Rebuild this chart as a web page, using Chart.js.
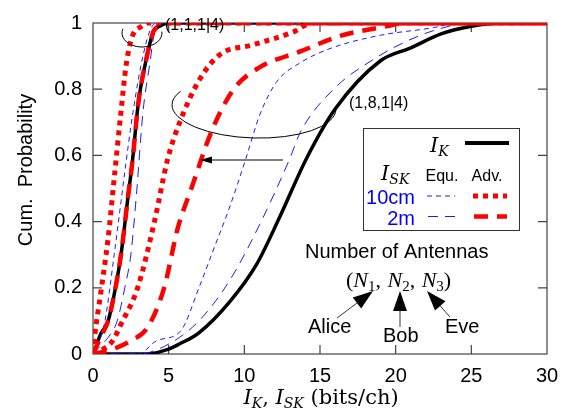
<!DOCTYPE html>
<html><head><meta charset="utf-8">
<script src="https://cdn.jsdelivr.net/npm/chart.js@4"></script>
<style>html,body{margin:0;padding:0;background:#fff}#wrap{width:569px;height:419px}</style>
</head><body><div id="wrap"><canvas id="c" width="569" height="419"></canvas></div>
<script>
// ---- data ----
const xTickLabels = ['0','5','10','15','20','25','30'];
const yTickLabels = ['0','0.2','0.4','0.6','0.8','1'];

// I_K, antennas (1,1,1|4)
const ikAX = [0,0.1,0.5,1,1.4,1.85,2.3,2.6,3,3.5,4,4.4,5,30];
const ikAY = [0,0.01,0.06,0.1,0.18,0.3,0.47,0.58,0.76,0.886,0.975,0.99,1,1];
// I_K, antennas (1,8,1|4)
const ikBX = [0,3.5,5,5.7,7,9,10.8,12.3,14.1,16,19,21,23,25,27,30];
const ikBY = [0,0,0.015,0.03,0.064,0.156,0.27,0.41,0.59,0.74,0.886,0.925,0.967,0.99,1,1];
// I_SK 10cm Equ.
const eq10AX = [0,0.3,0.75,1.4,1.85,2.1,2.64,3.3,3.9,4.3,30];
const eq10AY = [0,0.03,0.09,0.3,0.46,0.55,0.73,0.9,0.99,1,1];
const eq10BX = [0,3,4.2,5.8,7,8,9,10.1,11,12.1,13.7,15.8,19,22.5,24,30];
const eq10BY = [0,0,0.04,0.07,0.2,0.32,0.44,0.59,0.72,0.82,0.88,0.925,0.963,0.986,1,1];
// I_SK 2m Equ.
const eq2AX = [0,0.4,1,1.6,2.1,2.5,2.85,3.3,3.75,4.1,4.5,30];
const eq2AY = [0,0.02,0.05,0.1,0.2,0.3,0.47,0.73,0.876,0.98,1,1];
const eq2BX = [0,3,5,7,9,11,13,13.7,15.9,18.7,20.5,22.5,25,30];
const eq2BY = [0,0,0.03,0.1,0.22,0.39,0.59,0.67,0.8,0.895,0.94,0.977,1,1];
// I_SK 10cm Adv.
const adv10AX = [0,0.1,0.5,1,1.4,1.8,2.2,2.6,3.2,3.6,30];
const adv10AY = [0,0.05,0.18,0.35,0.53,0.71,0.876,0.96,0.99,1,1];
const adv10BX = [0,0.5,1.3,1.85,2.95,4.06,4.94,5.73,7.05,8.4,10.55,13.2,14.5,30];
const adv10BY = [0,0.01,0.04,0.09,0.2,0.4,0.59,0.7,0.83,0.905,0.934,0.972,1,1];
// I_SK 2m Adv.
const adv2AX = [0,0.2,0.6,1,1.4,1.85,2.3,2.6,3,3.5,4,4.4,5,30];
const adv2AY = [0,0.02,0.06,0.1,0.18,0.3,0.47,0.58,0.76,0.886,0.975,0.99,1,1];
const adv2BX = [0,1,2.5,3.6,4.7,5.6,6.5,7.9,9.3,11,13.7,16.4,19.4,20.5,30];
const adv2BY = [0,0.01,0.04,0.08,0.2,0.38,0.5,0.68,0.8,0.866,0.914,0.962,0.99,1,1];

const pts = (xs, ys) => xs.map((v, i) => ({x: v, y: ys[i]}));

const SANS = '"Liberation Sans", Arial, sans-serif';
const SERIF = '"Liberation Serif", "DejaVu Serif", serif';
const DSERIF = '"DejaVu Serif", serif';
const RED = '#ff0000', BLUE = '#1a1aff', BLACK = '#000';

const st = {
  adv10: {borderColor: RED, borderWidth: 5, borderDash: [5, 5]},
  adv2: {borderColor: RED, borderWidth: 4.5, borderDash: [14, 9]},
  eq10: {borderColor: BLUE, borderWidth: 1, borderDash: [5, 4]},
  eq2: {borderColor: BLUE, borderWidth: 1, borderDash: [10, 7]},
  ik: {borderColor: BLACK, borderWidth: 3.5, borderDash: []}
};
function ds(label, data, s) {
  return Object.assign({label, data, pointRadius: 0, fill: false, cubicInterpolationMode: 'monotone', borderCapStyle: 'butt'}, s);
}
// first dataset is drawn on top
const datasets = [
  ds('2m Adv. (1,1,1|4)', pts(adv2AX, adv2AY), st.adv2),
  ds('10cm Adv. (1,1,1|4)', pts(adv10AX, adv10AY), st.adv10),
  ds('10cm Adv. (1,8,1|4)', pts(adv10BX, adv10BY), st.adv10),
  ds('2m Adv. (1,8,1|4)', pts(adv2BX, adv2BY), st.adv2),
  ds('10cm Equ. (1,1,1|4)', pts(eq10AX, eq10AY), st.eq10),
  ds('2m Equ. (1,1,1|4)', pts(eq2AX, eq2AY), st.eq2),
  ds('10cm Equ. (1,8,1|4)', pts(eq10BX, eq10BY), st.eq10),
  ds('2m Equ. (1,8,1|4)', pts(eq2BX, eq2BY), st.eq2),
  ds('I_K (1,1,1|4)', pts(ikAX, ikAY), st.ik),
  ds('I_K (1,8,1|4)', pts(ikBX, ikBY), st.ik)
];

function rich(ctx, x, y, segs) {
  let cx = x;
  for (const s of segs) {
    ctx.font = s.f;
    ctx.fillStyle = s.c || '#000';
    ctx.fillText(s.t, cx, y + (s.dy || 0));
    cx += ctx.measureText(s.t).width + (s.sp || 0);
  }
  return cx;
}
function richWidth(ctx, segs) {
  let w = 0;
  for (const s of segs) { ctx.font = s.f; w += ctx.measureText(s.t).width + (s.sp || 0); }
  return w;
}
function arrow(ctx, x1, y1, x2, y2, hl, hw) {
  const ang = Math.atan2(y2 - y1, x2 - x1);
  const bx = x2 - hl * Math.cos(ang), by = y2 - hl * Math.sin(ang);
  ctx.beginPath(); ctx.moveTo(x1, y1); ctx.lineTo(bx, by); ctx.stroke();
  ctx.beginPath();
  ctx.moveTo(x2, y2);
  ctx.lineTo(bx + hw * Math.sin(ang), by - hw * Math.cos(ang));
  ctx.lineTo(bx - hw * Math.sin(ang), by + hw * Math.cos(ang));
  ctx.closePath(); ctx.fill();
}
function sample(ctx, x1, x2, y, s) {
  ctx.save();
  ctx.strokeStyle = s.borderColor; ctx.lineWidth = s.borderWidth;
  ctx.setLineDash(s.borderDash); ctx.lineCap = 'butt';
  ctx.beginPath(); ctx.moveTo(x1, y); ctx.lineTo(x2, y); ctx.stroke();
  ctx.restore();
}

const framePlugin = {
  id: 'frame',
  beforeDatasetsDraw(chart) {
    const {ctx, chartArea: a, scales: {x, y}} = chart;
    ctx.save();
    ctx.strokeStyle = '#444'; ctx.lineWidth = 1.2;
    ctx.strokeRect(a.left, a.top, a.right - a.left, a.bottom - a.top);
    ctx.beginPath();
    const tl = 9;
    for (let v = 5; v < 30; v += 5) {
      const px = x.getPixelForValue(v);
      ctx.moveTo(px, a.bottom); ctx.lineTo(px, a.bottom - tl);
      ctx.moveTo(px, a.top); ctx.lineTo(px, a.top + tl);
    }
    for (let v = 0.2; v < 0.99; v += 0.2) {
      const py = y.getPixelForValue(v);
      ctx.moveTo(a.left, py); ctx.lineTo(a.left + tl, py);
      ctx.moveTo(a.right, py); ctx.lineTo(a.right - tl, py);
    }
    ctx.stroke();
    ctx.restore();
  }
};

const annotPlugin = {
  id: 'annot',
  afterDatasetsDraw(chart) {
    const {ctx} = chart;
    ctx.save();
    ctx.strokeStyle = '#000'; ctx.fillStyle = '#000'; ctx.lineWidth = 1;
    ctx.textBaseline = 'alphabetic'; ctx.textAlign = 'left';
    // bracket arcs
    ctx.beginPath(); ctx.ellipse(142, 33, 20, 14, 0, -0.1, Math.PI + 0.3); ctx.stroke();
    ctx.beginPath(); ctx.ellipse(254, 107, 82, 31, 0.03, 0, Math.PI + 0.45); ctx.stroke();
    ctx.font = '16px ' + SANS;
    ctx.fillText('(1,1,1|4)', 165, 30);
    ctx.fillText('(1,8,1|4)', 349, 108);
    // shift arrow
    arrow(ctx, 283, 160, 200, 160, 12, 3.5);

    // legend box
    ctx.fillStyle = '#fff';
    ctx.fillRect(363, 128, 156, 102);
    ctx.strokeStyle = '#333'; ctx.lineWidth = 1;
    ctx.strokeRect(363.5, 128.5, 156, 102);
    rich(ctx, 430, 152, [{t: 'I', f: 'italic 21px ' + DSERIF}, {t: 'K', f: 'italic 14px ' + DSERIF, dy: 4}]);
    sample(ctx, 465, 509, 143, {borderColor: '#000', borderWidth: 4, borderDash: []});
    rich(ctx, 381, 180, [{t: 'I', f: 'italic 21px ' + DSERIF}, {t: 'SK', f: 'italic 14px ' + DSERIF, dy: 4}]);
    ctx.fillStyle = '#000';
    ctx.font = '16px ' + SANS; ctx.textAlign = 'center';
    ctx.fillText('Equ.', 442, 181);
    ctx.fillText('Adv.', 487, 181);
    ctx.textAlign = 'right'; ctx.font = '20px ' + SANS; ctx.fillStyle = '#0000ff';
    ctx.fillText('10cm', 415, 204);
    ctx.fillText('2m', 415, 225);
    sample(ctx, 427, 455, 196, st.eq10);
    sample(ctx, 473, 507, 196, st.adv10);
    sample(ctx, 428, 458, 216.5, st.eq2);
    sample(ctx, 474, 507, 216.5, st.adv2);

    // antennas annotation
    ctx.fillStyle = '#000'; ctx.textAlign = 'left';
    ctx.font = '20px ' + SANS;
    ctx.fillText('Number of Antennas', 305, 258);
    const nf = 'italic 22px ' + SERIF, sf = '15px ' + SERIF, rf = '22px ' + SERIF;
    rich(ctx, 346, 287, [
      {t: '(', f: rf}, {t: 'N', f: nf}, {t: '1', f: sf, dy: 4}, {t: ', ', f: rf, sp: 1},
      {t: 'N', f: nf}, {t: '2', f: sf, dy: 4}, {t: ', ', f: rf, sp: 1},
      {t: 'N', f: nf}, {t: '3', f: sf, dy: 4}, {t: ')', f: rf}
    ]);
    ctx.font = '20px ' + SANS;
    ctx.fillText('Alice', 308, 333);
    ctx.fillText('Bob', 383, 342);
    ctx.fillText('Eve', 445, 333);
    ctx.lineWidth = 1;
    arrow(ctx, 337, 318, 373, 291, 20, 7);
    arrow(ctx, 400, 327, 400, 291, 20, 7);
    arrow(ctx, 450, 317, 427, 291, 20, 7);

    // axis titles
    const xs = [
      {t: 'I', f: 'italic 21px ' + DSERIF}, {t: 'K', f: 'italic 14px ' + DSERIF, dy: 4},
      {t: ', ', f: '21px ' + DSERIF},
      {t: 'I', f: 'italic 21px ' + DSERIF}, {t: 'SK', f: 'italic 14px ' + DSERIF, dy: 4},
      {t: ' (bits/ch)', f: '21px ' + DSERIF}
    ];
    const w = richWidth(ctx, xs);
    rich(ctx, 321 - w / 2, 404, xs);
    ctx.save();
    ctx.translate(32, 170); ctx.rotate(-Math.PI / 2);
    ctx.textAlign = 'center'; ctx.font = '20px ' + SANS; ctx.fillStyle = '#000';
    ctx.fillText('Cum.  Probability', 0, 0);
    ctx.restore();
    ctx.restore();
  }
};

new Chart(document.getElementById('c'), {
  type: 'line',
  data: {datasets},
  options: {
    responsive: false, animation: false, devicePixelRatio: 1,
    layout: {padding: {top: 7, right: 22, left: 0, bottom: 0}},
    plugins: {legend: {display: false}, tooltip: {enabled: false}},
    scales: {
      x: {
        type: 'linear', min: 0, max: 30,
        afterFit: s => { s.height = 65; },
        afterBuildTicks: s => { s.ticks = xTickLabels.map(t => ({value: Number(t)})); },
        grid: {display: false, drawTicks: false},
        border: {display: false},
        ticks: {padding: 10, color: '#000', font: {family: SANS, size: 20}, maxRotation: 0,
          callback: (v, i) => xTickLabels[i]}
      },
      y: {
        type: 'linear', min: 0, max: 1,
        afterFit: s => { s.width = 93; },
        afterBuildTicks: s => { s.ticks = yTickLabels.map(t => ({value: Number(t)})); },
        grid: {display: false, drawTicks: false},
        border: {display: false},
        ticks: {padding: 11, color: '#000', font: {family: SANS, size: 20},
          callback: (v, i) => yTickLabels[i]}
      }
    }
  },
  plugins: [framePlugin, annotPlugin]
});
</script></body></html>
